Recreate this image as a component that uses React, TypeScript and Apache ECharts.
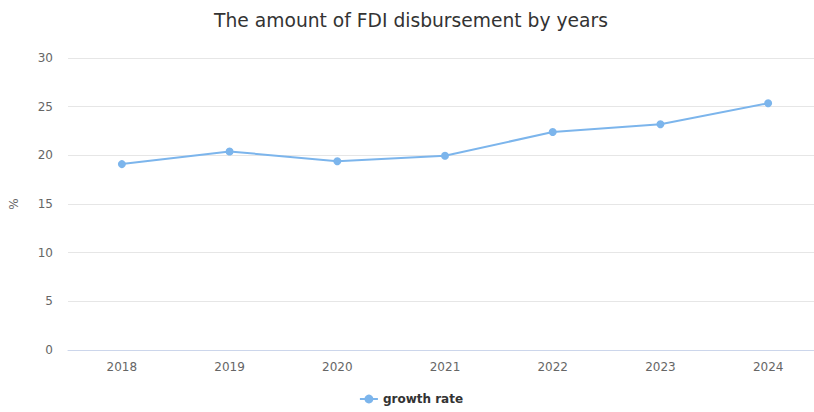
import React, { useEffect, useRef } from "react";
import * as echarts from "echarts";

const categories = ["2018", "2019", "2020", "2021", "2022", "2023", "2024"];
const growthRate = [19.1, 20.4, 19.4, 19.95, 22.4, 23.2, 25.35];
const seriesName = "growth rate";
const titleText = "The amount of FDI disbursement by years";
const yAxisName = "%";

export default function App() {
  const ref = useRef<HTMLDivElement>(null);
  useEffect(() => {
    if (!ref.current) return;
    const chart = echarts.init(ref.current, undefined, { renderer: "svg" });
    const font = "'DejaVu Sans', 'Lucida Grande', sans-serif";
    chart.setOption({
      animation: false,
      textStyle: { fontFamily: font },
      title: {
        text: titleText,
        left: "center",
        top: 6,
        textStyle: { fontSize: 18.7, fontWeight: "normal", color: "#333333", fontFamily: font },
      },
      legend: {
        bottom: 2,
        left: "center",
        itemWidth: 18,
        itemHeight: 11,
        itemGap: 10,
        textStyle: { fontSize: 12, fontWeight: "bold", color: "#333333", fontFamily: font },
        data: [seriesName],
      },
      grid: { left: 65, right: 0, top: 58, bottom: 62 },
      xAxis: {
        type: "category",
        data: categories,
        boundaryGap: true,
        axisLine: { lineStyle: { color: "#ccd6eb" } },
        axisTick: { show: false },
        axisLabel: { color: "#666666", fontSize: 12, margin: 11, fontFamily: font },
      },
      yAxis: {
        type: "value",
        min: 0,
        max: 30,
        interval: 5,
        name: yAxisName,
        nameLocation: "middle",
        nameGap: 48,
        nameRotate: 90,
        nameTextStyle: { color: "#666666", fontSize: 12, fontFamily: font },
        axisLine: { show: false },
        axisTick: { show: false },
        axisLabel: { color: "#666666", fontSize: 12, margin: 15, fontFamily: font },
        splitLine: { lineStyle: { color: "#e6e6e6" } },
      },
      series: [
        {
          name: seriesName,
          type: "line",
          data: growthRate,
          symbol: "circle",
          symbolSize: 8,
          itemStyle: { color: "#7cb5ec" },
          lineStyle: { color: "#7cb5ec", width: 2 },
        },
      ],
    });
    return () => chart.dispose();
  }, []);
  return (
    <div
      ref={ref}
      style={{ position: "absolute", left: 0, top: 0, width: 822, height: 412 }}
    />
  );
}
